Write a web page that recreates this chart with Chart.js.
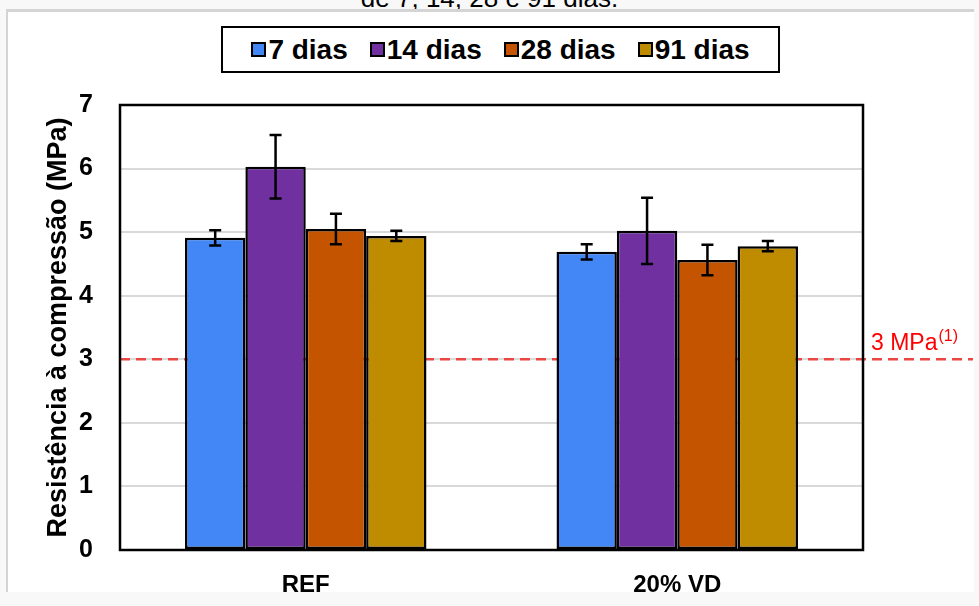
<!DOCTYPE html>
<html>
<head>
<meta charset="utf-8">
<script src="https://cdn.jsdelivr.net/npm/chart.js@4/dist/chart.umd.min.js"></script>
<style>
  html, body { margin: 0; padding: 0; }
  body { width: 979px; height: 606px; position: relative; overflow: hidden; background: #f8f8f8; font-family: "Liberation Sans", Arial, sans-serif; }
  .caption { position: absolute; left: 0; width: 979px; top: -15px; text-align: center; font-size: 26px; line-height: 26px; color: #000; }
  .panel { position: absolute; left: 6px; top: 9px; width: 968px; height: 583px; box-sizing: border-box; border-top: 3px solid #d4d4d4; border-left: 2px solid #d4d4d4; background: #fff; }
  #chart { position: absolute; left: 0; top: 0; }
  .legend { position: absolute; left: 221px; top: 26px; width: 559px; height: 47px; box-sizing: border-box; border: 2px solid #000; background: #fff; display: flex; align-items: center; justify-content: center; gap: 22px; }
  .legend .item { display: flex; align-items: center; font-weight: bold; font-size: 28px; color: #000; }
  .legend .sw { width: 15px; height: 15px; box-sizing: border-box; border: 2px solid #000; margin-right: 2px; }
</style>
</head>
<body>
<div class="caption">de 7, 14, 28 e 91 dias.</div>
<div class="panel"></div>
<canvas id="chart" width="979" height="606"></canvas>
<div class="legend" id="legend"></div>
<script>
// categorias e séries
const categories = ['REF', '20% VD'];
const seriesNames = ['7 dias', '14 dias', '28 dias', '91 dias'];
const seriesColors = ['#4287f5', '#7030a0', '#c55400', '#bf8c00'];

// resistência média (MPa)
const dias7 = [4.91, 4.69];
const dias14 = [6.03, 5.02];
const dias28 = [5.05, 4.56];
const dias91 = [4.94, 4.78];

// desvio padrão
const err7 = [0.12, 0.12];
const err14 = [0.50, 0.52];
const err28 = [0.24, 0.24];
const err91 = [0.08, 0.08];

const yTicks = [0, 1, 2, 3, 4, 5, 6, 7];
const limitValue = 3; // 3 MPa(1)

const seriesValues = [dias7, dias14, dias28, dias91];
const seriesErrors = [err7, err14, err28, err91];

Chart.defaults.font.family = '"Liberation Sans", Arial, sans-serif';
Chart.defaults.color = '#000';

// legend in html
const legendEl = document.getElementById('legend');
seriesNames.forEach(function(name, i) {
    const item = document.createElement('div');
    item.className = 'item';
    item.innerHTML = '<span class="sw" style="background:' + seriesColors[i] + '"></span>' + name;
    legendEl.appendChild(item);
});

// dashed limit line + label
const limitLine = {
    id: 'limitLine',
    beforeDatasetsDraw: function(chart) {
        const ctx = chart.ctx;
        const y = chart.scales.y.getPixelForValue(limitValue);
        ctx.save();
        ctx.strokeStyle = '#e8483f';
        ctx.lineWidth = 2.5;
        ctx.setLineDash([10, 6]);
        ctx.beginPath();
        ctx.moveTo(chart.chartArea.left, y);
        ctx.lineTo(chart.width - 6, y);
        ctx.stroke();
        ctx.restore();
    },
    afterDraw: function(chart) {
        const ctx = chart.ctx;
        const y = chart.scales.y.getPixelForValue(limitValue);
        const x = chart.chartArea.right + 8;
        ctx.save();
        ctx.fillStyle = '#ff0000';
        ctx.textBaseline = 'alphabetic';
        ctx.font = '23px "Liberation Sans", Arial, sans-serif';
        const main = limitValue + ' MPa';
        ctx.fillText(main, x, y - 9);
        const w = ctx.measureText(main).width;
        ctx.font = '16px "Liberation Sans", Arial, sans-serif';
        ctx.fillText('(1)', x + w + 1, y - 18);
        ctx.restore();
    }
};

// error bars
const errorBars = {
    id: 'errorBars',
    afterDatasetsDraw: function(chart) {
        const ctx = chart.ctx;
        const yScale = chart.scales.y;
        ctx.save();
        ctx.strokeStyle = '#000';
        ctx.lineWidth = 2.5;
        chart.data.datasets.forEach(function(ds, i) {
            const meta = chart.getDatasetMeta(i);
            meta.data.forEach(function(bar, j) {
                const v = ds.data[j];
                const e = seriesErrors[i][j];
                const top = yScale.getPixelForValue(v + e);
                const bot = yScale.getPixelForValue(v - e);
                ctx.beginPath();
                ctx.moveTo(bar.x, top); ctx.lineTo(bar.x, bot);
                ctx.moveTo(bar.x - 6, top); ctx.lineTo(bar.x + 6, top);
                ctx.moveTo(bar.x - 6, bot); ctx.lineTo(bar.x + 6, bot);
                ctx.stroke();
            });
        });
        // frame around plot
        const a = chart.chartArea;
        ctx.lineWidth = 2.5;
        ctx.strokeRect(a.left, a.top, a.right - a.left, a.bottom - a.top);
        ctx.restore();
    }
};

const padLeft = 42;

new Chart(document.getElementById('chart'), {
    type: 'bar',
    data: {
        labels: categories,
        datasets: seriesNames.map(function(name, i) {
            return {
                label: name,
                data: seriesValues[i],
                backgroundColor: seriesColors[i],
                borderColor: '#000',
                borderWidth: 2.5,
                borderSkipped: false,
                categoryPercentage: 0.65,
                barPercentage: 1.0
            };
        })
    },
    options: {
        responsive: false,
        animation: false,
        layout: { padding: { left: padLeft, top: 105, right: 116, bottom: 0 } },
        plugins: {
            legend: { display: false },
            tooltip: { enabled: false }
        },
        scales: {
            x: {
                grid: { display: false },
                border: { display: false },
                ticks: { font: { size: 24, weight: 'bold' }, color: '#000', padding: 13 },
                afterFit: function(scale) { scale.height = 56; }
            },
            y: {
                min: 0,
                max: 7,
                afterBuildTicks: function(scale) { scale.ticks = yTicks.map(function(v) { return { value: v }; }); },
                grid: { color: '#d9d9d9', lineWidth: 2, drawTicks: false },
                border: { display: false },
                ticks: { font: { size: 25, weight: 'bold' }, color: '#000', padding: 27 },
                title: {
                    display: true,
                    text: 'Resistência à compressão (MPa)',
                    font: { size: 27, weight: 'bold' },
                    color: '#000',
                    padding: 0
                },
                afterFit: function(scale) { scale.width = 120 - padLeft; }
            }
        }
    },
    plugins: [limitLine, errorBars]
});
</script>
</body>
</html>
